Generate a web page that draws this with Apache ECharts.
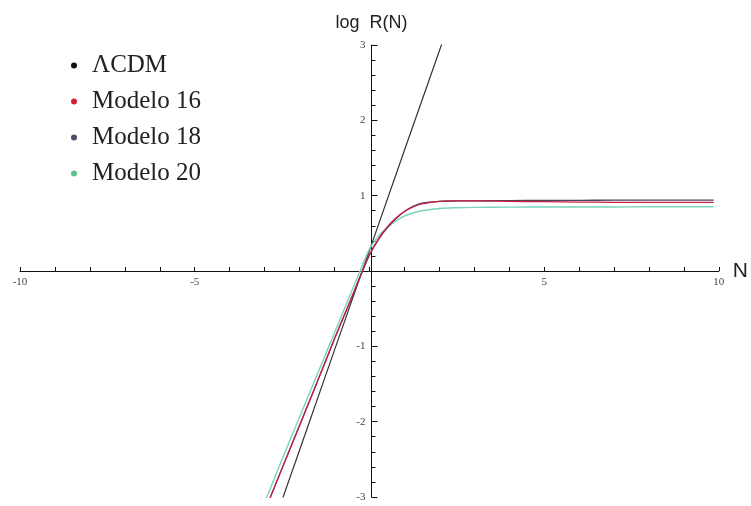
<!DOCTYPE html>
<html>
<head>
<meta charset="utf-8">
<script src="https://cdn.jsdelivr.net/npm/echarts@6/dist/echarts.min.js"></script>
<style>
  html, body { margin: 0; padding: 0; background: #fff; }
  #chart { width: 751px; height: 506px; }
</style>
</head>
<body>
<div id="chart"></div>
<script>
// valores
const nCurve = [-3.2, -2.5, -2, -1.5, -1, -0.5, -0.25, 0, 0.25, 0.5, 0.75, 1, 1.25, 1.5, 2, 2.5, 3, 4, 5, 6, 7, 8, 9, 9.85]
const modelo16 = [-3.42, -2.62, -2.05, -1.48, -0.9, -0.34, -0.05, 0.22, 0.42, 0.58, 0.7, 0.79, 0.85, 0.89, 0.925, 0.93, 0.93, 0.925, 0.92, 0.915, 0.912, 0.91, 0.91, 0.91]
const modelo18 = [-3.42, -2.62, -2.05, -1.48, -0.9, -0.35, -0.06, 0.21, 0.41, 0.57, 0.69, 0.79, 0.86, 0.9, 0.925, 0.93, 0.932, 0.935, 0.937, 0.938, 0.94, 0.94, 0.94, 0.94]
const modelo20 = [-3.31, -2.5, -1.94, -1.38, -0.82, -0.26, 0.02, 0.29, 0.46, 0.57, 0.66, 0.73, 0.77, 0.8, 0.83, 0.84, 0.845, 0.848, 0.85, 0.85, 0.85, 0.852, 0.853, 0.853]
const nLcdm = [-3, -2, -1, 0, 1, 2, 2.3]
const lcdm = [-3.7, -2.38, -1.05, 0.27, 1.6, 2.92, 3.32]
const xLabels = [-10, -5, 5, 10]
const yLabels = [-3, -2, -1, 1, 2, 3]

const pairs = (xs, ys) => xs.map((x, i) => [x, ys[i]])

// los ejes se cruzan en el centro del grid (rango simetrico)
const gridW = 751 - 20 - 28
const gridH = 506 - 45 - 9

const myChart = echarts.init(document.getElementById('chart'))
myChart.setOption({
  animation: false,
  backgroundColor: '#fff',
  legend: {
    orient: 'vertical',
    left: 66,
    top: 48,
    icon: 'circle',
    itemWidth: 6,
    itemHeight: 6,
    itemGap: 11,
    textStyle: {
      fontFamily: 'Liberation Serif',
      fontSize: 25,
      color: '#222',
      padding: [0, 0, 0, 10],
    },
    data: ['ΛCDM', 'Modelo 16', 'Modelo 18', 'Modelo 20'],
  },
  grid: { left: 20, right: 28, top: 45, bottom: 9 },
  xAxis: {
    type: 'value',
    min: -10,
    max: 10,
    interval: 1,
    position: 'bottom',
    offset: -gridH / 2,
    name: 'N',
    nameLocation: 'end',
    nameGap: 14,
    nameTextStyle: { fontFamily: 'Liberation Sans', fontSize: 21, color: '#222', verticalAlign: 'middle' },
    axisLine: { onZero: false, lineStyle: { color: '#111', width: 1 } },
    axisTick: { inside: true, length: 4, lineStyle: { color: '#111' } },
    splitLine: { show: false },
    axisLabel: {
      margin: 6,
      fontFamily: 'Liberation Serif',
      fontSize: 11,
      color: '#444',
      formatter: (v) => (xLabels.includes(v) ? String(v) : ''),
    },
  },
  yAxis: {
    type: 'value',
    min: -3,
    max: 3,
    interval: 1,
    position: 'left',
    offset: -gridW / 2,
    name: 'log  R(N)',
    nameLocation: 'end',
    nameGap: 13,
    nameTextStyle: { fontFamily: 'Liberation Sans', fontSize: 18, color: '#222', align: 'center' },
    axisLine: { onZero: false, lineStyle: { color: '#111', width: 1 } },
    axisTick: { inside: true, length: 6, lineStyle: { color: '#111' } },
    minorTick: { show: true, splitNumber: 5, length: 4, lineStyle: { color: '#111' } },
    splitLine: { show: false },
    axisLabel: {
      margin: 6,
      fontFamily: 'Liberation Serif',
      fontSize: 11,
      color: '#444',
      formatter: (v) => (yLabels.includes(v) ? String(v) : ''),
    },
  },
  series: [
    {
      name: 'ΛCDM',
      type: 'line',
      showSymbol: false,
      color: '#111',
      lineStyle: { width: 1.2, color: '#333' },
      data: pairs(nLcdm, lcdm),
    },
    {
      name: 'Modelo 20',
      type: 'line',
      showSymbol: false,
      smooth: 0.3,
      color: '#5ec38a',
      lineStyle: { width: 1.4, color: '#78d4bb' },
      data: pairs(nCurve, modelo20),
    },
    {
      name: 'Modelo 18',
      type: 'line',
      showSymbol: false,
      smooth: 0.3,
      color: '#4d4d70',
      lineStyle: { width: 1.3, color: '#45455e' },
      data: pairs(nCurve, modelo18),
    },
    {
      name: 'Modelo 16',
      type: 'line',
      showSymbol: false,
      smooth: 0.3,
      color: '#d4202e',
      lineStyle: { width: 1.3, color: '#c8203f' },
      data: pairs(nCurve, modelo16),
    },
  ],
})
</script>
</body>
</html>
